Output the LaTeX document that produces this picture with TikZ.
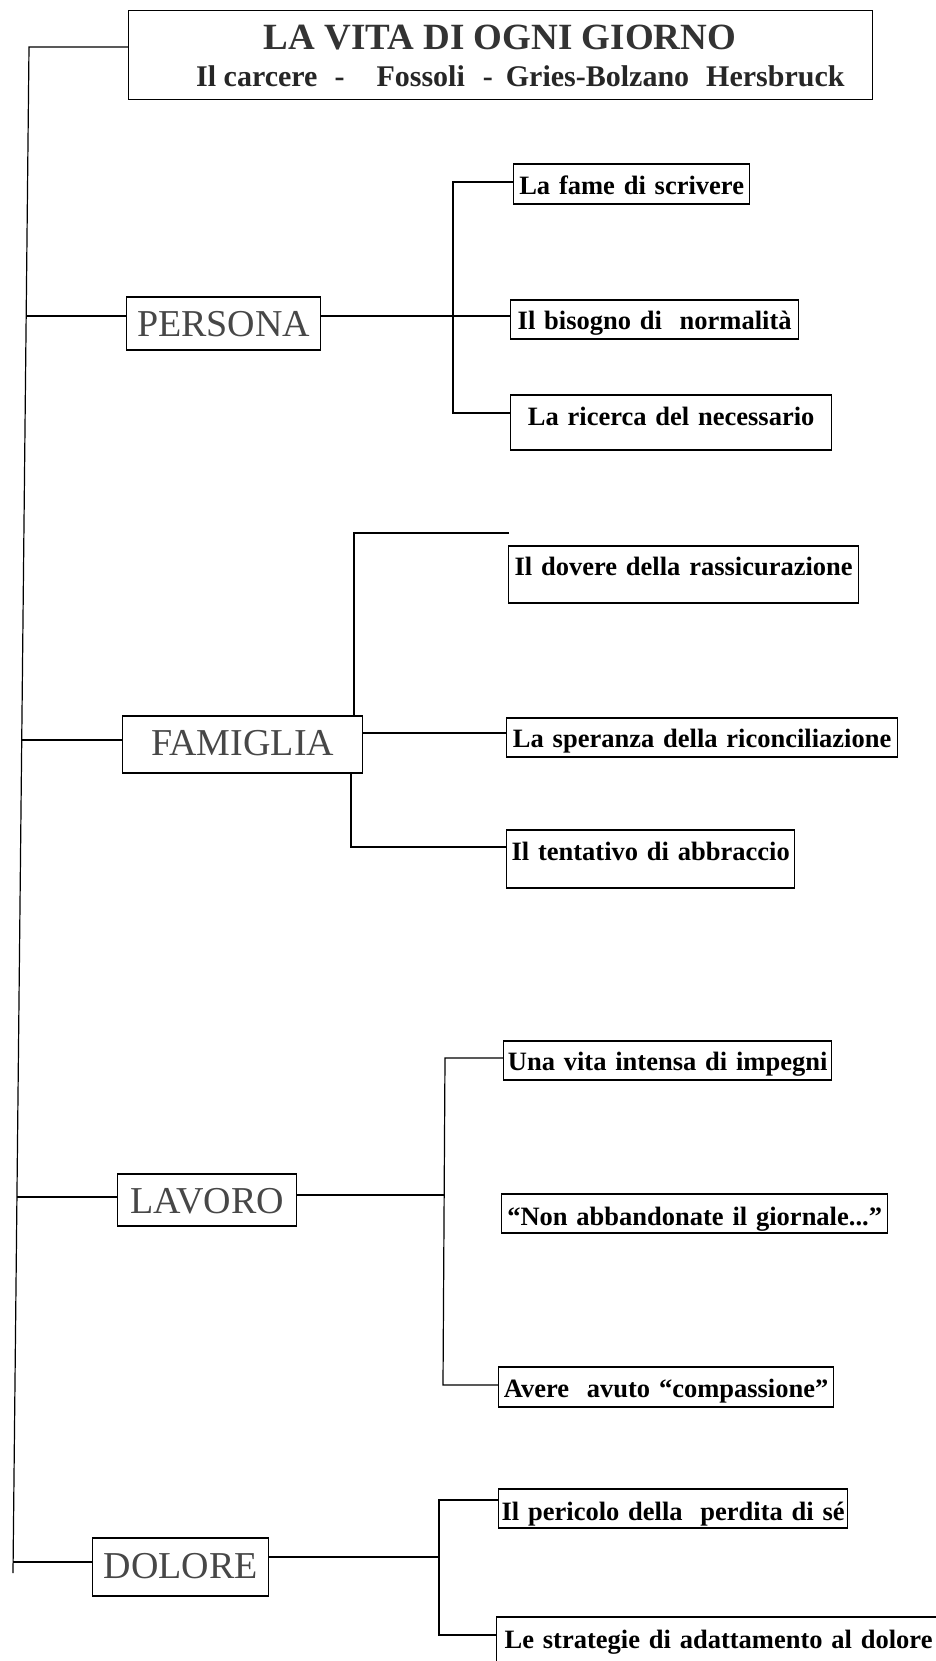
\documentclass[tikz,border=0pt]{standalone}
\usepackage{fontspec}
\setmainfont{Liberation Serif}
\begin{document}
\begin{tikzpicture}[x=1pt,y=-1pt,
  bx/.style={draw, line width=1.3pt, inner sep=0pt, align=center},
  leaf/.style={bx, font=\fontsize{26.5}{30}\selectfont\bfseries},
  cat/.style={bx, font=\fontsize{38}{42}\selectfont, text=black!72},
  ln/.style={line width=1.2pt}]
\useasboundingbox (0,0) rectangle (935,1661);

% title
\node[bx, minimum width=744pt, minimum height=89pt, anchor=north west] (title) at (128,10) {};
\node[font=\fontsize{37}{40}\selectfont\bfseries, text=black!80, anchor=base, inner sep=0pt] (t1) at (500,50) {LA VITA DI OGNI GIORNO};
\node[font=\fontsize{30}{32}\selectfont\bfseries, text=black!85, anchor=base west, inner sep=0pt] (t2) at (196,87) {Il carcere\hspace{17pt}-\hspace{32pt}Fossoli\hspace{18pt}-\hspace{13pt}Gries-Bolzano\hspace{17pt}Hersbruck};

% categories
\node[cat, text width=194pt, text height=40pt, text depth=13pt, anchor=base west] (persona) at (126,337) {PERSONA};
\node[cat, text width=240pt, text height=39pt, text depth=18pt, anchor=base west] (famiglia) at (122,755) {FAMIGLIA};
\node[cat, text width=179pt, text height=39pt, text depth=13pt, anchor=base west] (lavoro) at (117,1213) {LAVORO};
\node[cat, text width=176pt, text height=40pt, text depth=18pt, anchor=base west] (dolore) at (92,1578) {DOLORE};

% leaves
\node[leaf, text width=236pt, text height=31pt, text depth=9pt, anchor=base west] (fame) at (513,195) {La fame di scrivere};
\node[leaf, text width=288pt, text height=29pt, text depth=10pt, anchor=base west] (bisogno) at (510,329) {Il bisogno di\ \ normalità};
\node[leaf, text width=321pt, text height=30pt, text depth=25pt, anchor=base west] (ricerca) at (510,425) {La ricerca del necessario};
\node[leaf, text width=350pt, text height=29pt, text depth=28pt, anchor=base west] (dovere) at (508,575) {Il dovere della rassicurazione};
\node[leaf, text width=391pt, text height=29pt, text depth=10pt, anchor=base west] (speranza) at (506,747) {La speranza della riconciliazione};
\node[leaf, text width=288pt, text height=30pt, text depth=28pt, anchor=base west] (tentativo) at (506,860) {Il tentativo di abbraccio};
\node[leaf, text width=328pt, text height=29pt, text depth=10pt, anchor=base west] (unavita) at (503,1070) {Una vita intensa di impegni};
\node[leaf, text width=386pt, text height=31pt, text depth=8pt, anchor=base west] (giornale) at (501,1225) {“Non abbandonate il giornale...”};
\node[leaf, text width=335pt, text height=30pt, text depth=10pt, anchor=base west] (avere) at (498,1397) {Avere\ \ avuto “compassione”};
\node[leaf, text width=349pt, text height=31pt, text depth=8pt, anchor=base west] (pericolo) at (498,1520) {Il pericolo della\ \ perdita di sé};
\node[leaf, text width=460pt, text height=31pt, text depth=40pt, inner xsep=8pt, align=left, anchor=base west] (strategie) at (496,1648) {Le strategie di adattamento al dolore};

% trunk
\coordinate (c0) at (29,47);
\coordinate (cE) at (13,1573);
\draw[ln] (title.west |- c0) -- (c0) -- (cE);
\coordinate (cP) at (26.2,316);
\coordinate (cF) at (21.7,740);
\coordinate (cL) at (16.9,1197);
\coordinate (cD) at (13.1,1562);
\draw[ln] (cP) -- (cP -| persona.west);
\draw[ln] (cF) -- (cF -| famiglia.west);
\draw[ln] (cL) -- (cL -| lavoro.west);
\draw[ln] (cD) -- (cD -| dolore.west);

% persona group
\coordinate (pa) at (453,182);
\coordinate (pb) at (453,413);
\coordinate (pm) at (453,316);
\draw[ln] (pa -| fame.west) -- (pa) -- (pb) -- (pb -| ricerca.west);
\draw[ln] (pm -| persona.east) -- (pm -| bisogno.west);

% famiglia group
\coordinate (fa) at (354,533);
\coordinate (fopen) at (509,533);
\draw[ln] (fopen) -- (fa) -- (fa |- famiglia.north);
\coordinate (fb) at (351,847);
\draw[ln] (fb |- famiglia.south) -- (fb) -- (fb -| tentativo.west);
\coordinate (fm) at (352,733);
\draw[ln] (fm -| famiglia.east) -- (fm -| speranza.west);

% lavoro group
\coordinate (la) at (445,1058);
\coordinate (lb) at (443,1385);
\coordinate (lm) at (444,1195);
\draw[ln] (la -| unavita.west) -- (la) -- (lb) -- (lb -| avere.west);
\draw[ln] (lm -| lavoro.east) -- (lm);

% dolore group
\coordinate (da) at (439,1500);
\coordinate (db) at (439,1635);
\coordinate (dm) at (439,1557);
\draw[ln] (da -| pericolo.west) -- (da) -- (db) -- (db -| strategie.west);
\draw[ln] (dm -| dolore.east) -- (dm);
\end{tikzpicture}
\end{document}
